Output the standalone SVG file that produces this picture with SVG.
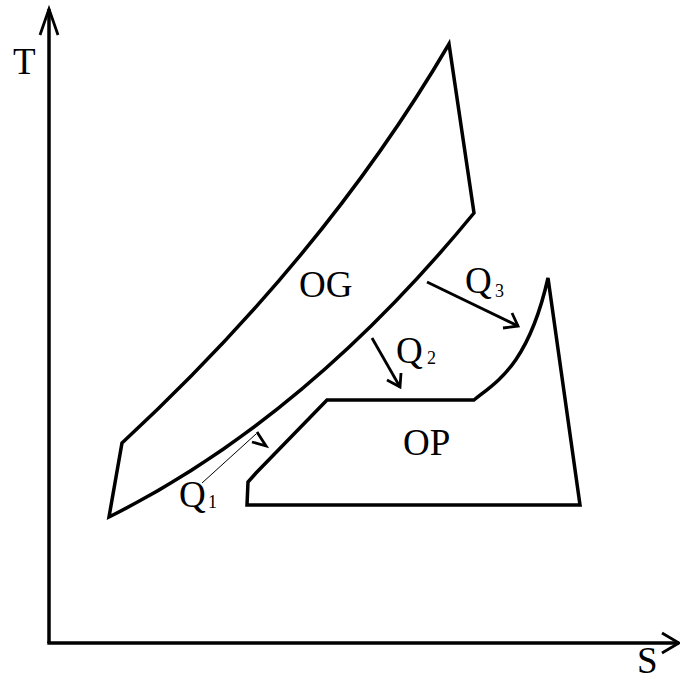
<svg xmlns="http://www.w3.org/2000/svg" width="680" height="682" viewBox="0 0 680 682">
<style>
.ln{fill:none;stroke:#000;stroke-width:3.5;stroke-linejoin:miter;stroke-linecap:butt}
.ar{fill:none;stroke:#000;stroke-width:2.8;stroke-linejoin:miter}
.thin{fill:none;stroke:#000;stroke-width:1}
text{font-family:"Liberation Serif","Times New Roman",serif;fill:#000}
.big{font-size:37px}
.sub{font-size:18px}
</style>
<rect width="680" height="682" fill="#fff"/>
<g id="axes">
<line class="ln" x1="49" y1="643" x2="49" y2="9"/>
<polyline class="ar" points="40,35 49,9 58,35"/>
<line class="ln" x1="47.3" y1="643" x2="679" y2="643"/>
<polyline class="ar" points="662,633 679,643 662,653"/>
<text class="big" x="13" y="74">T</text>
<text class="big" x="637" y="673">S</text>
</g>
<g id="OG">
<path class="ln" d="M109,517 L122,443 Q326,254 449,44 L474,213 Q305,419 109,517 Z"/>
<text class="big" x="299" y="297">OG</text>
</g>
<g id="OP">
<path class="ln" d="M247,505 L248,482 L256,473 L327,400 L474,400 C496,382 528,366 548,278 L580,505 Z"/>
<text class="big" x="403" y="455">OP</text>
</g>
<g id="connectors">
<g id="Q1">
<line class="thin" x1="202" y1="483" x2="256" y2="434"/>
<polyline class="ar" points="257,432 266,446 252,442"/>
<text class="big" x="179" y="507">Q</text><text class="sub" x="208" y="508">1</text>
</g>
<g id="Q2">
<line class="ar" x1="372" y1="338" x2="400" y2="387"/>
<polyline class="ar" points="387,380 400,387 401,373"/>
<text class="big" x="396" y="363">Q</text><text class="sub" x="427" y="364">2</text>
</g>
<g id="Q3">
<line class="ar" x1="427" y1="282" x2="518" y2="326"/>
<polyline class="ar" points="512,313 518,326 503,328"/>
<text class="big" x="465" y="293">Q</text><text class="sub" x="495" y="297">3</text>
</g>
</g>
</svg>
